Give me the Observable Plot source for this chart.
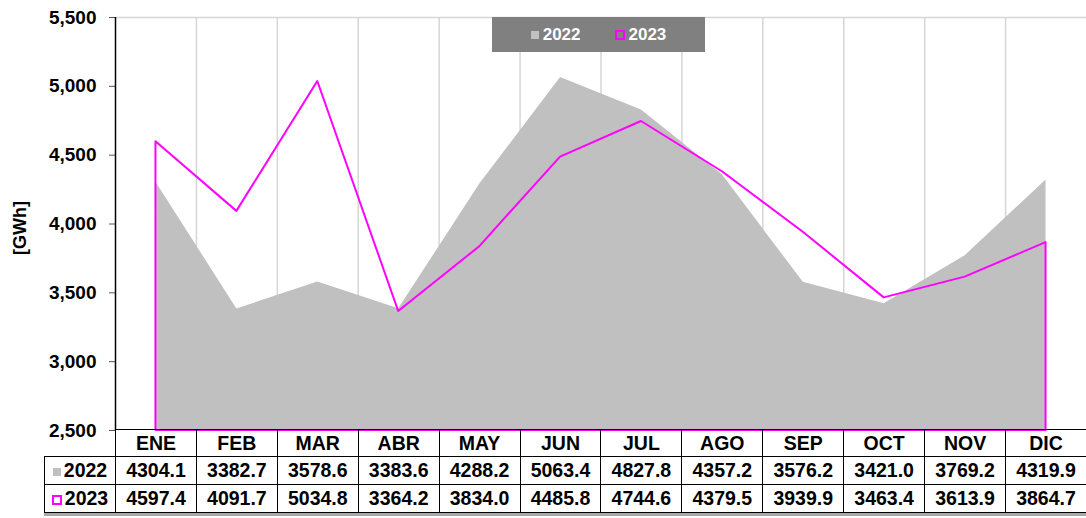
<!DOCTYPE html>
<html><head><meta charset="utf-8">
<script src="https://cdn.jsdelivr.net/npm/d3@7"></script>
<script src="https://cdn.jsdelivr.net/npm/@observablehq/plot@0.6"></script>
<style>
body{margin:0;background:#fff;font-family:"Liberation Sans",Arial,sans-serif;}
#wrap{position:relative;width:1086px;height:518px;overflow:hidden;}
#ytitle{position:absolute;left:20px;top:228px;transform:translate(-50%,-50%) rotate(-90deg);font-size:18px;font-weight:bold;white-space:nowrap;color:#000;}
#legend{position:absolute;left:492px;top:17px;width:213px;height:35px;background:#808080;color:#fff;font-size:17px;font-weight:bold;display:flex;align-items:center;justify-content:center;gap:34px;}
#legend span.item{display:flex;align-items:center;gap:4px;}
.sw22{display:inline-block;width:8px;height:8px;background:#c0c0c0;}
.sw23{display:inline-block;width:6px;height:6px;border:2px solid #ff00ff;background:transparent;}
#tbl{position:absolute;left:44px;top:429px;border-collapse:collapse;table-layout:fixed;width:1043px;font-size:19.5px;font-weight:bold;color:#000;box-shadow:0 3px 0 #a8a8a8;}
#tbl td{border:1.5px solid #000;padding:0;text-align:center;height:27px;line-height:27px;white-space:nowrap;}
#tbl tr:first-child td{height:26px;line-height:26px;}
#tbl td.corner{border-top:none;border-left:none;}
#tbl td.lab .sw22{margin-right:3px;vertical-align:1px;}
#tbl td.lab .sw23{margin-right:3px;vertical-align:0px;}
</style></head><body><div id="wrap"></div>
<script>
const months = ["ENE","FEB","MAR","ABR","MAY","JUN","JUL","AGO","SEP","OCT","NOV","DIC"];
const v2022 = [4304.1,3382.7,3578.6,3383.6,4288.2,5063.4,4827.8,4357.2,3576.2,3421.0,3769.2,4319.9];
const v2023 = [4597.4,4091.7,5034.8,3364.2,3834.0,4485.8,4744.6,4379.5,3939.9,3463.4,3613.9,3864.7];
const seriesNames = ["2022","2023"];
const yTicks = [2500,3000,3500,4000,4500,5000,5500];
const yLabel = "[GWh]";

const data = months.map((m,i)=>({i, m, v2022: v2022[i], v2023: v2023[i]}));
const W=1086, H=518, ML=115, MR=0, MT=17, MB=88;
const FONT = '"Liberation Sans", Arial, sans-serif';

const chart = Plot.plot({
  width: W, height: H,
  marginLeft: ML, marginRight: MR, marginTop: MT, marginBottom: MB,
  style: {fontFamily: FONT, fontSize: "19px", fontWeight: "bold", color: "#000", background: "transparent", overflow: "visible"},
  x: {type: "linear", domain: [-0.5, months.length - 0.5], axis: null},
  y: {domain: [yTicks[0], yTicks[yTicks.length-1]], axis: null},
  marks: [
    Plot.ruleX(data.filter(d => d.i > 0), {x: d => d.i - 0.5, stroke: "#d6d6d6", strokeWidth: 1.5}),
    Plot.ruleY([yTicks[yTicks.length-1]], {stroke: "#d6d6d6", strokeWidth: 1.5}),
    Plot.areaY(data, {x: "i", y1: yTicks[0], y2: "v2022", fill: "#c0c0c0"}),
    Plot.areaY(data, {x: "i", y1: yTicks[0], y2: "v2023", fill: "none", stroke: "#ff00ff", strokeWidth: 2}),
    Plot.axisY({ticks: yTicks, tickFormat: d3.format(","), tickSize: 6, tickPadding: 13, label: null, stroke: "#555", fontSize: 19, fontWeight: "bold"}),
    Plot.ruleX([-0.5], {stroke: "#000", strokeWidth: 1.5})
  ]
});

const wrap = document.getElementById("wrap");
wrap.appendChild(chart);

const yt = document.createElement("div");
yt.id = "ytitle"; yt.textContent = yLabel;
wrap.appendChild(yt);

const lg = document.createElement("div");
lg.id = "legend";
lg.innerHTML = `<span class="item"><span class="sw22"></span>${seriesNames[0]}</span><span class="item"><span class="sw23"></span>${seriesNames[1]}</span>`;
wrap.appendChild(lg);

const fmt = d3.format(".1f");
const colW = (W - ML) / months.length;
let html = `<colgroup><col style="width:${ML-44}px">` + months.map(()=>`<col style="width:${colW}px">`).join("") + `</colgroup>`;
html += `<tr><td class="corner"></td>` + months.map(m=>`<td>${m}</td>`).join("") + `</tr>`;
html += `<tr><td class="lab"><span class="sw22"></span>${seriesNames[0]}</td>` + v2022.map(v=>`<td>${fmt(v)}</td>`).join("") + `</tr>`;
html += `<tr><td class="lab"><span class="sw23"></span>${seriesNames[1]}</td>` + v2023.map(v=>`<td>${fmt(v)}</td>`).join("") + `</tr>`;
const tbl = document.createElement("table");
tbl.id = "tbl"; tbl.innerHTML = html;
wrap.appendChild(tbl);
</script>
</body></html>
